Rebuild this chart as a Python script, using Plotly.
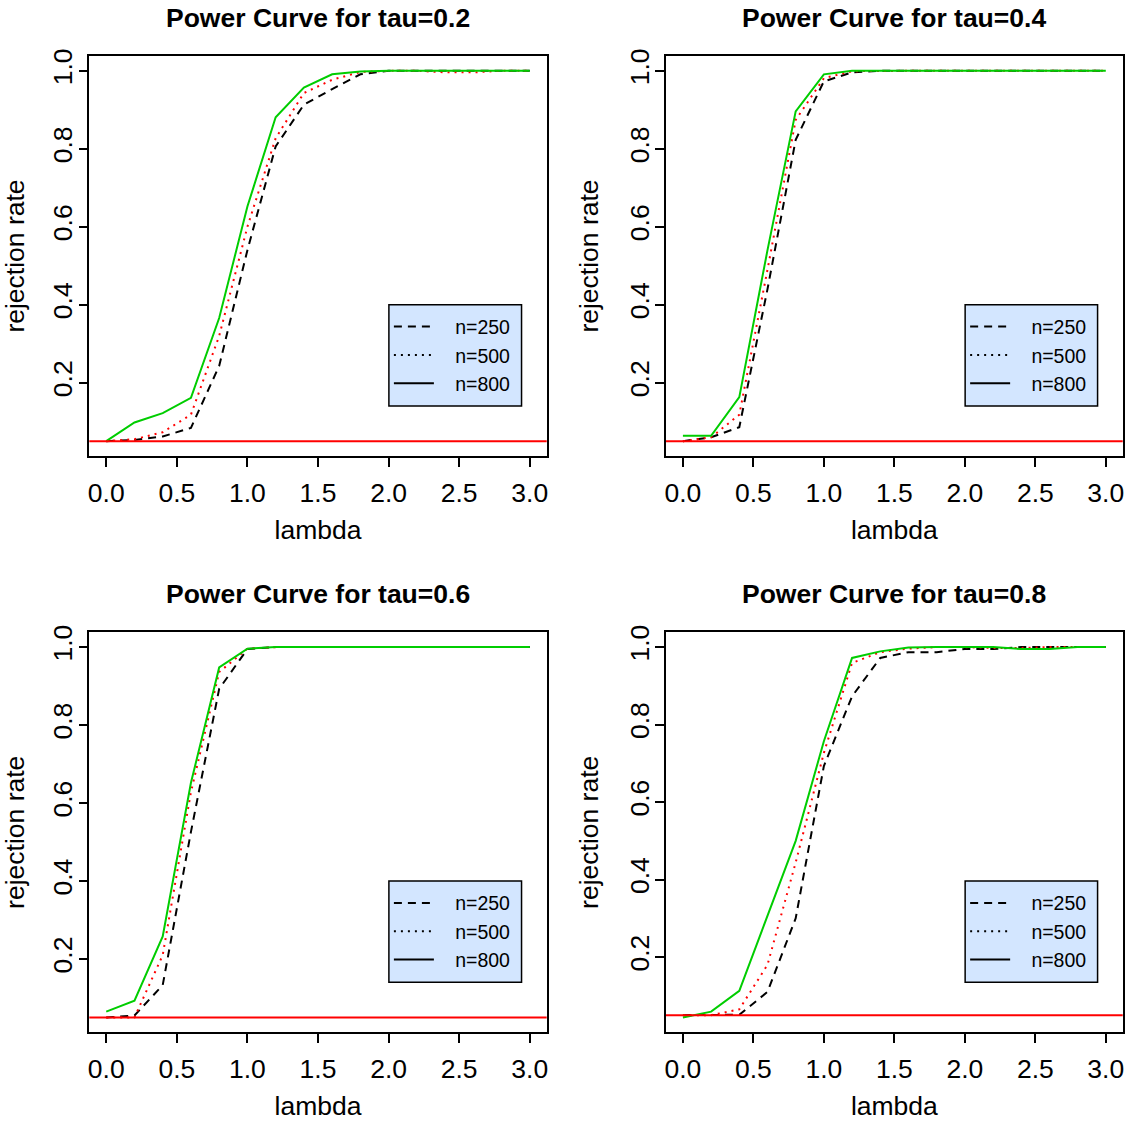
import plotly.graph_objects as go

# ---------------- data ----------------
lam = [0.0, 0.2, 0.4, 0.6, 0.8, 1.0, 1.2, 1.4, 1.6, 1.8, 2.0, 2.2, 2.4, 2.6, 2.8, 3.0]
tau_labels = ["0.2", "0.4", "0.6", "0.8"]
sample_sizes = ["n=250", "n=500", "n=800"]
alpha_level = 0.05

# tau = 0.2
t02_n250 = [0.050, 0.053, 0.062, 0.084, 0.243, 0.540, 0.806, 0.913, 0.953, 0.991, 1.000, 1.000, 1.000, 1.000, 1.000, 1.000]
t02_n500 = [0.050, 0.055, 0.073, 0.118, 0.320, 0.600, 0.827, 0.943, 0.977, 0.997, 1.000, 1.000, 0.996, 0.996, 1.000, 1.000]
t02_n800 = [0.050, 0.098, 0.122, 0.161, 0.366, 0.652, 0.881, 0.957, 0.991, 0.998, 1.000, 1.000, 1.000, 1.000, 1.000, 1.000]
# tau = 0.4
t04_n250 = [0.050, 0.060, 0.086, 0.440, 0.823, 0.973, 0.996, 1.000, 1.000, 1.000, 1.000, 1.000, 1.000, 1.000, 1.000, 1.000]
t04_n500 = [0.050, 0.060, 0.118, 0.490, 0.874, 0.981, 0.999, 1.000, 1.000, 1.000, 1.000, 1.000, 1.000, 1.000, 1.000, 1.000]
t04_n800 = [0.064, 0.064, 0.163, 0.540, 0.896, 0.991, 1.000, 1.000, 1.000, 1.000, 1.000, 1.000, 1.000, 1.000, 1.000, 1.000]
# tau = 0.6
t06_n250 = [0.050, 0.055, 0.133, 0.526, 0.893, 0.995, 1.000, 1.000, 1.000, 1.000, 1.000, 1.000, 1.000, 1.000, 1.000, 1.000]
t06_n500 = [0.050, 0.050, 0.210, 0.628, 0.936, 0.996, 1.000, 1.000, 1.000, 1.000, 1.000, 1.000, 1.000, 1.000, 1.000, 1.000]
t06_n800 = [0.065, 0.093, 0.258, 0.652, 0.948, 0.996, 1.000, 1.000, 1.000, 1.000, 1.000, 1.000, 1.000, 1.000, 1.000, 1.000]
# tau = 0.8
t08_n250 = [0.050, 0.050, 0.051, 0.110, 0.300, 0.693, 0.873, 0.972, 0.987, 0.987, 0.995, 0.995, 1.000, 1.000, 1.000, 1.000]
t08_n500 = [0.050, 0.050, 0.065, 0.180, 0.444, 0.727, 0.959, 0.987, 0.996, 1.000, 1.000, 0.998, 0.998, 1.000, 1.000, 1.000]
t08_n800 = [0.044, 0.059, 0.113, 0.309, 0.500, 0.757, 0.972, 0.989, 0.999, 1.000, 1.000, 1.000, 0.995, 0.995, 1.000, 1.000]

panels = [
    (t02_n250, t02_n500, t02_n800),
    (t04_n250, t04_n500, t04_n800),
    (t06_n250, t06_n500, t06_n800),
    (t08_n250, t08_n500, t08_n800),
]

x_ticks = [0.0, 0.5, 1.0, 1.5, 2.0, 2.5, 3.0]
y_ticks = [0.2, 0.4, 0.6, 0.8, 1.0]

# ---------------- style ----------------
FONT = "Liberation Sans, Arial, Helvetica, sans-serif"
FS = 26.5
W, H = 1138, 1124
col_px = [(89.3, 546.7), (666.0, 1122.7)]
row_px = [(56.0, 456.0), (632.3, 1032.3)]
styles = [
    dict(color="black", dash="8px,6px"),
    dict(color="#FF0000", dash="2px,5px"),
    dict(color="#00CD00", dash="solid"),
]
legend_dash = ["8px,6px", "2px,5px", "solid"]
LEG_X0, LEG_X1, LEG_Y0, LEG_Y1 = 0.655, 0.945, 0.125, 0.378

fig = go.Figure()
layout = dict(
    width=W, height=H, margin=dict(l=0, r=0, t=0, b=0),
    paper_bgcolor="white", plot_bgcolor="white", template="none",
    font=dict(family=FONT, color="black"), showlegend=True,
)
annotations = []
shapes = []

for i, series in enumerate(panels):
    r, c = divmod(i, 2)
    k = "" if i == 0 else str(i + 1)
    xa, ya = "x" + k, "y" + k
    leg = "legend" + k
    for j, vals in enumerate(series):
        st = styles[j]
        fig.add_trace(go.Scatter(
            x=lam, y=vals, mode="lines", xaxis=xa, yaxis=ya,
            line=dict(color=st["color"], dash=st["dash"], width=2),
            showlegend=False, hoverinfo="skip"))
    for j, name in enumerate(sample_sizes):
        fig.add_trace(go.Scatter(
            x=[None], y=[None], mode="lines", xaxis=xa, yaxis=ya,
            name="&nbsp;&nbsp;&nbsp;" + name,
            line=dict(color="black", dash=legend_dash[j], width=2),
            legend=leg, showlegend=True))

    ymin = min(min(s) for s in series)
    ymax = max(max(s) for s in series)
    pad = 0.04 * (ymax - ymin)
    x0, x1 = col_px[c]
    y0, y1 = row_px[r]
    layout["xaxis" + k] = dict(
        domain=[x0 / W, x1 / W], anchor=ya, range=[-0.12, 3.12],
        tickvals=x_ticks, tickformat=".1f", ticks="outside", ticklen=9,
        tickwidth=1.5, tickcolor="black", showline=True, linecolor="black",
        linewidth=1.5, mirror=True, showgrid=False, zeroline=False,
        tickfont=dict(size=FS, family=FONT, color="black"),
        ticklabelstandoff=3, automargin=False,
        title=dict(text="lambda", font=dict(size=FS, family=FONT, color="black"), standoff=14),
    )
    layout["yaxis" + k] = dict(
        domain=[1 - y1 / H, 1 - y0 / H], anchor=xa, range=[ymin - pad, ymax + pad],
        tickvals=y_ticks, tickformat=".1f", ticks="outside", ticklen=9,
        tickwidth=1.5, tickcolor="black", showline=True, linecolor="black",
        linewidth=1.5, mirror=True, showgrid=False, zeroline=False,
        tickangle=-90, tickfont=dict(size=FS, family=FONT, color="black"),
        ticklabelstandoff=-4, automargin=False,
        title=dict(text="rejection rate", font=dict(size=FS, family=FONT, color="black"), standoff=18),
    )
    annotations.append(dict(
        text="<b>Power Curve for tau=" + tau_labels[i] + "</b>",
        xref=xa + " domain", yref=ya + " domain", x=0.5, y=1, yshift=38,
        xanchor="center", yanchor="middle", showarrow=False,
        font=dict(size=26.5, family=FONT, color="black")))
    shapes.append(dict(
        type="line", xref=xa + " domain", yref=ya, x0=0, x1=1,
        y0=alpha_level, y1=alpha_level, line=dict(color="#FF0000", width=2)))
    shapes.append(dict(
        type="rect", xref=xa + " domain", yref=ya + " domain",
        x0=LEG_X0, x1=LEG_X1, y0=LEG_Y0, y1=LEG_Y1, layer="above",
        fillcolor="#D3E6FF", line=dict(color="black", width=1.5)))
    lx = (x0 + LEG_X0 * (x1 - x0)) / W
    ly = 1 - (y1 - 0.5 * (LEG_Y0 + LEG_Y1) * (y1 - y0)) / H
    layout[leg] = dict(
        x=lx, y=ly, xanchor="left", yanchor="middle", xref="paper", yref="paper",
        bgcolor="rgba(0,0,0,0)", borderwidth=0, itemwidth=40, tracegroupgap=0,
        font=dict(size=19.5, family=FONT, color="black"))

layout["annotations"] = annotations
layout["shapes"] = shapes
fig.update_layout(**layout)
fig.write_html("out.html")
